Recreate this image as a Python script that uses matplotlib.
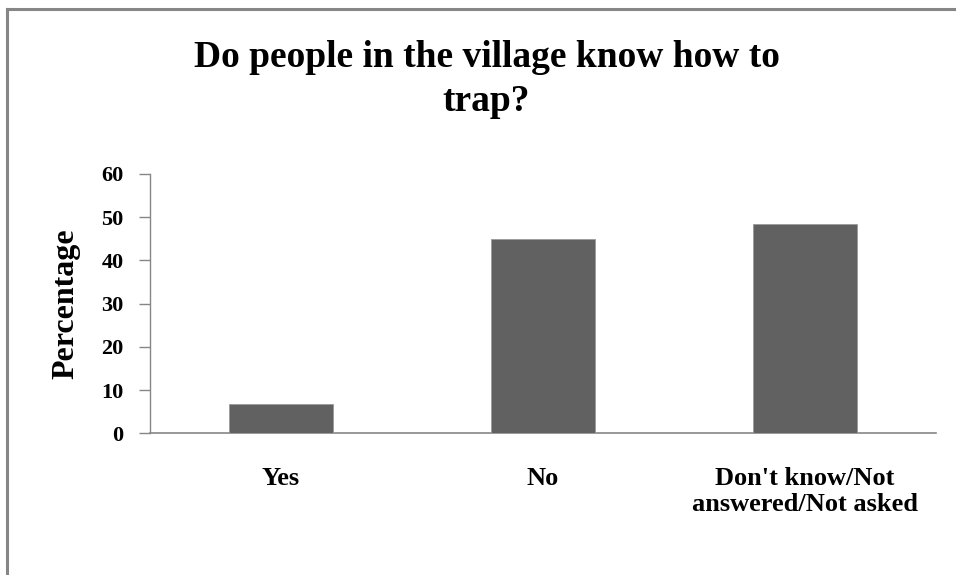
import numpy as np
import matplotlib.pyplot as plt
from matplotlib.lines import Line2D

############################################################
# Data

categories = ['Yes', 'No', "Don't know/Not\nanswered/Not asked"]
percent = [6.7, 44.9, 48.5]
y_ticks = [0, 10, 20, 30, 40, 50, 60]

title = 'Do people in the village know how to\ntrap?'

############################################################
# Plotting

plt.rcParams['font.family'] = ['Liberation Serif', 'DejaVu Serif']
plt.rcParams['font.weight'] = 'bold'

grey = '#868686'
bar_col = '#616161'

fig = plt.figure(figsize=(9.56, 5.75), dpi=100)
ax = fig.add_axes([0.1569, 0.2464, 0.8222, 0.451])

x = np.arange(len(categories))
ax.bar(x, percent, width=0.40, color=bar_col, edgecolor='#9a9a9a', linewidth=0.6, zorder=3)

ax.set_xlim(-0.5, len(categories) - 0.5)
ax.set_ylim(0, 60)
ax.set_yticks(y_ticks)
ax.set_yticklabels([str(t) for t in y_ticks], fontsize=16, fontweight='bold')
ax.set_xticks(x)
ax.set_xticklabels(categories, fontsize=19, fontweight='bold', linespacing=1.2)

ax.tick_params(axis='y', direction='out', length=8, width=1, color=grey, pad=11)
ax.tick_params(axis='x', length=0, pad=24)

for s in ['top', 'right']:
    ax.spines[s].set_visible(False)
ax.spines['left'].set_color(grey)
ax.spines['bottom'].set_color(grey)
ax.spines['left'].set_linewidth(1)
ax.spines['bottom'].set_linewidth(1.2)

ax.set_ylabel('Percentage', fontsize=23, fontweight='bold')
ax.yaxis.set_label_coords(-0.088, 0.5)

fig.text(0.509, 0.862, title, ha='center', va='center', fontsize=27,
         fontweight='bold', linespacing=1.35)

# outer frame (only top and left visible in the reference)
fig.add_artist(Line2D([0.0078, 0.0078], [0, 0.9843], transform=fig.transFigure, color=grey, lw=2.2))
fig.add_artist(Line2D([0.0078, 1.0], [0.9843, 0.9843], transform=fig.transFigure, color=grey, lw=2.2))

fig.savefig('out.png', dpi=100)
